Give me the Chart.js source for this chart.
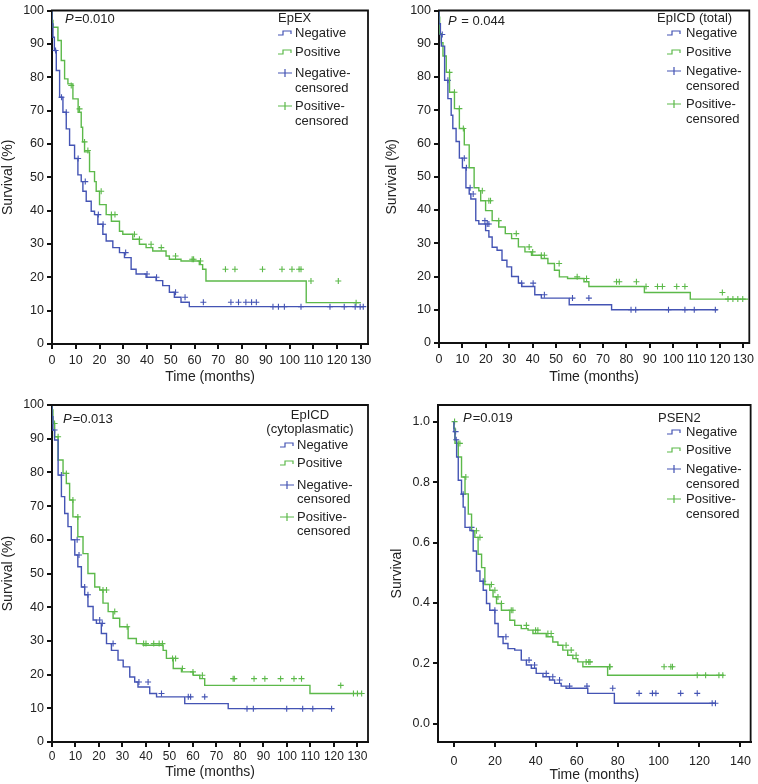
<!DOCTYPE html>
<html>
<head>
<meta charset="utf-8">
<script src="https://cdn.jsdelivr.net/npm/chart.js@4"></script>
<style>
  html, body { margin: 0; padding: 0; background: #fff; }
  #wrap { position: relative; width: 758px; height: 784px; }
  .cell { position: absolute; width: 379px; height: 392px; }
</style>
</head>
<body>
<div id="wrap">
  <div class="cell" style="left:0;top:0"><canvas id="c1" width="379" height="392"></canvas></div>
  <div class="cell" style="left:379px;top:0"><canvas id="c2" width="379" height="392"></canvas></div>
  <div class="cell" style="left:0;top:392px"><canvas id="c3" width="379" height="392"></canvas></div>
  <div class="cell" style="left:379px;top:392px"><canvas id="c4" width="379" height="392"></canvas></div>
</div>
<script>
// ---- EpEX ----
const negT1 = [0, 0.4, 1, 1.8, 3.2, 4.6, 6, 7.4, 9.5, 10.9, 12.3, 13, 14.4, 16.5, 17.9, 19.3, 21.4, 22.8, 25.6, 28.4, 30.5, 33.3, 35.4, 39.6, 43.8, 46.6, 49.4, 51.5, 54.3, 57.8, 87.5, 131];
const negS1 = [100, 96, 92, 88, 82, 74, 69.5, 64.5, 59.6, 55.6, 50.7, 48.7, 45.8, 42.8, 39.8, 38.8, 35.9, 32.9, 30.9, 28.9, 27.4, 25.9, 22.4, 21, 20, 19, 17.5, 15.5, 14, 12.5, 11.2, 11.2];
const posT1 = [0, 0.4, 2.5, 3.9, 5.3, 6.7, 8.8, 11, 12.3, 12.9, 13.7, 15.8, 17.9, 18.6, 20, 22.8, 25, 28.4, 29.8, 34, 36.8, 39.6, 42.4, 48, 49.4, 54.3, 62, 63.4, 64.8, 107, 122, 130];
const posS1 = [100, 97, 95, 91, 85, 79.5, 78, 73.5, 69.5, 65, 60.6, 57.6, 51.7, 48.7, 45.8, 41.8, 38.8, 36.8, 33.8, 32.9, 31.4, 29.9, 28.9, 27.9, 26.4, 25.4, 24.9, 23.8, 22.4, 18.9, 12.4, 12.4];
const negC1T = [1.5, 4, 6, 11, 14, 19.5, 21.5, 31, 40, 44, 52, 56, 63.7, 75.3, 78.5, 81.6, 84, 86, 93, 95.3, 97.8, 104.8, 117, 123, 127.6, 129.7, 131];
const negC1S = [88, 74, 69.5, 55.6, 48.7, 38.8, 35.9, 27.4, 21, 20, 15.5, 14, 12.5, 12.5, 12.5, 12.5, 12.5, 12.5, 11.2, 11.2, 11.2, 11.2, 11.2, 11.2, 11.2, 11.2, 11.2];
const posC1T = [8.1, 11.6, 13.7, 15.1, 20.7, 25, 26.5, 34.7, 36.8, 41.7, 46, 52, 59, 59.6, 62.5, 73, 77, 88.6, 96.8, 101, 104, 104.8, 109, 120.5, 128];
const posC1S = [77.5, 70.5, 60.6, 58, 45.8, 38.8, 38.8, 32.9, 31.4, 29.9, 28.9, 26.4, 25.4, 25.4, 24.9, 22.4, 22.4, 22.4, 22.4, 22.4, 22.4, 22.4, 18.9, 18.9, 12.4];

// ---- EpICD (total) ----
const negT2 = [0, 0.6, 1, 2.4, 3.8, 5.2, 5.9, 7.3, 8.7, 10, 11.5, 12.9, 13.6, 15.7, 17, 19.9, 21.3, 22.7, 24.8, 26.9, 29, 31, 33.9, 35.3, 40.9, 43.7, 55.6, 73.7, 78, 119];
const negS2 = [100, 96, 92.8, 89.3, 79, 73.5, 68.5, 64.5, 60.6, 55.6, 52.7, 46.7, 44.8, 43.3, 36.8, 35.8, 33.8, 31.9, 28.8, 27.9, 24.9, 22.9, 20, 18, 17, 14.5, 13.5, 11.5, 10, 10];
const posT2 = [0, 0.3, 1, 1.7, 3.1, 4.5, 6.6, 8.7, 10.8, 12.9, 15, 17, 17.8, 19.9, 22.7, 25.5, 28.3, 31, 33.9, 36.7, 39.5, 43.7, 46.5, 49.3, 51.4, 54.9, 61.9, 64, 87.7, 107.3, 122, 132];
const posS2 = [100, 98, 93, 90.3, 86.3, 81.4, 75.4, 70.5, 64.5, 59.6, 52.7, 46.7, 45.8, 42.8, 39.8, 36.8, 34.9, 32.9, 31.4, 28.9, 27.4, 26.4, 25.4, 23.9, 21.9, 19.9, 19.4, 18.4, 17, 15.2, 13.2, 13.2];
const negC2T = [1.4, 3.8, 10.8, 11.7, 13.3, 14.6, 19.6, 20.6, 21.3, 35.3, 40.2, 45, 57, 64, 82, 84, 98, 105, 109, 118];
const negC2S = [92.8, 79, 55.6, 52.7, 46.7, 44.8, 36.8, 35.8, 35.8, 18, 18, 14.5, 13.5, 13.5, 10, 10, 10, 10, 10, 10];
const posC2T = [4.5, 6.6, 8.7, 10.4, 18.5, 21.3, 22, 25.5, 33, 38.5, 40, 43.7, 45, 51.3, 59, 63, 75.8, 77, 84.3, 88.4, 93.3, 95.4, 101.5, 105, 121, 123.4, 125.5, 127.6, 129.7];
const posC2S = [81.4, 75.4, 70.5, 64.5, 45.8, 42.8, 42.8, 36.8, 32.9, 28.9, 27.4, 26.4, 26.4, 23.9, 19.9, 19.4, 18.4, 18.4, 18.4, 17, 17, 17, 17, 17, 15.2, 13.2, 13.2, 13.2, 13.2];

// ---- EpICD (cytoplasmatic) ----
const negT3 = [0, 0.4, 1.1, 2.6, 4, 5.4, 6.8, 8.2, 9.7, 11, 12.5, 13.9, 15.3, 17.5, 18.9, 21, 23.2, 25.3, 28.1, 30.3, 33.1, 35.2, 36.6, 41.6, 44.5, 56.5, 75, 79.3, 119];
const negS3 = [100, 96.5, 92.6, 89.6, 79.2, 72.8, 67.8, 63.9, 60, 55.5, 52, 46, 43.7, 40.2, 36.2, 35.2, 32.2, 29.2, 27.2, 24.3, 22.3, 19.3, 17.8, 16.3, 14.4, 13.4, 11.4, 9.9, 9.9];
const posT3 = [0, 0.4, 1.1, 2.6, 4.7, 6.1, 7.5, 8.9, 11, 13.2, 15.3, 18.2, 20.3, 21.7, 23.9, 26, 28.8, 32.4, 35.9, 38.8, 47.3, 48.7, 51.6, 55.1, 60.1, 62.9, 65, 109.8, 126, 131.8];
const posS3 = [100, 98.5, 94.5, 90.6, 83.7, 79.7, 76.7, 71.8, 66.8, 60.9, 55.9, 50, 46, 45.1, 41.2, 38.7, 36.7, 34.2, 30.7, 29.2, 28.7, 27.2, 24.8, 21.8, 20.8, 19.8, 18.8, 16.8, 14.4, 14.4];
const negC3T = [1.1, 4, 10.7, 11.5, 13.9, 15.3, 20.3, 21.4, 26, 37, 40.9, 46.6, 58, 59, 65, 83, 85.7, 99.9, 106.7, 111, 119];
const negC3S = [92.6, 79.2, 60, 55.5, 46, 43.7, 36.2, 35.2, 29.2, 17.8, 17.8, 14.4, 13.4, 13.4, 13.4, 9.9, 9.9, 9.9, 9.9, 9.9, 9.9];
const posC3T = [1.1, 2.6, 6.1, 8.9, 11, 21.7, 23.2, 26.7, 32, 39, 40, 43.3, 45.6, 47, 51.3, 52.6, 55.5, 60, 64, 77.1, 77.6, 86, 90.6, 97.3, 103, 106.2, 122.9, 128.3, 130, 131.8];
const posC3S = [94.5, 90.6, 79.7, 71.8, 66.8, 45.1, 45.1, 38.7, 34.2, 29.2, 29.2, 29.2, 29.2, 29.2, 24.8, 24.8, 21.8, 20.8, 19.8, 18.8, 18.8, 18.8, 18.8, 18.8, 18.8, 18.8, 16.8, 14.4, 14.4, 14.4];

// ---- PSEN2 ----
const negT4 = [0, 0.5, 1.3, 2.1, 3.7, 4.5, 5.4, 7.8, 9.4, 11, 12.7, 14.3, 15.9, 17.5, 20, 21.6, 24, 26.4, 29.7, 32.9, 35.4, 37.8, 40.2, 43.5, 46.7, 49.2, 52.4, 54.8, 65.4, 78.4, 124, 128];
const negS4 = [1, 0.967, 0.94, 0.883, 0.806, 0.76, 0.717, 0.65, 0.64, 0.572, 0.506, 0.472, 0.442, 0.398, 0.376, 0.332, 0.288, 0.266, 0.249, 0.244, 0.211, 0.195, 0.184, 0.167, 0.156, 0.145, 0.134, 0.125, 0.118, 0.101, 0.068, 0.068];
const posT4 = [0, 0.5, 2.1, 3.7, 5.4, 7, 8.6, 10.2, 11.8, 13.5, 15.1, 17.5, 19.1, 20.8, 23.2, 27.3, 29.7, 32.9, 36.2, 38.6, 45.1, 48.3, 50.8, 53.2, 55.6, 58.1, 60.5, 63, 75.1, 109.2, 132];
const posS4 = [1, 0.978, 0.928, 0.883, 0.817, 0.761, 0.694, 0.639, 0.617, 0.561, 0.517, 0.461, 0.442, 0.42, 0.398, 0.376, 0.343, 0.326, 0.315, 0.31, 0.299, 0.288, 0.271, 0.26, 0.244, 0.227, 0.216, 0.205, 0.189, 0.161, 0.161];
const negC4T = [0.8, 1.1, 4.5, 8.6, 14.3, 20, 25.4, 36.7, 39.4, 45.1, 48.3, 51.6, 56.5, 65, 77.6, 90.5, 97, 98.7, 110.8, 118.9, 126.2, 127.8];
const negC4S = [0.967, 0.94, 0.76, 0.65, 0.472, 0.376, 0.288, 0.211, 0.195, 0.167, 0.156, 0.145, 0.125, 0.125, 0.118, 0.101, 0.101, 0.101, 0.101, 0.101, 0.068, 0.068];
const posC4T = [0.3, 2.1, 2.9, 5.8, 11, 12.7, 18.3, 20, 21.5, 23.2, 28, 28.8, 35.4, 39.9, 41, 45.9, 47.5, 54.8, 57.3, 59.7, 64.6, 65.9, 66.5, 76, 76.3, 102.7, 106, 106.8, 118.9, 123, 129.5, 131.4];
const posC4S = [1, 0.928, 0.928, 0.817, 0.639, 0.617, 0.461, 0.442, 0.42, 0.398, 0.376, 0.376, 0.326, 0.31, 0.31, 0.299, 0.299, 0.26, 0.244, 0.227, 0.205, 0.205, 0.205, 0.189, 0.189, 0.189, 0.189, 0.189, 0.161, 0.161, 0.161, 0.161];

const seriesLabels = ["Negative", "Positive", "Negative-censored", "Positive-censored"];

const BLUE = "#4454b4";
const GREEN = "#5cb94a";
const FONT = "'Liberation Sans', Arial, Helvetica, sans-serif";

function pts(ts, ss) {
    return ts.map(function (t, i) { return { x: t, y: ss[i] }; });
}

// box on top/right, legend and P value drawn inside the plot
const kmDecor = {
    id: "kmDecor",
    afterDraw(chart, args, o) {
        const ctx = chart.ctx;
        const a = chart.chartArea;
        ctx.save();
        ctx.strokeStyle = "#111";
        ctx.lineWidth = 1.8;
        ctx.beginPath();
        ctx.moveTo(a.left - 1, a.top);
        ctx.lineTo(a.right, a.top);
        ctx.lineTo(a.right, a.bottom + 1);
        ctx.stroke();

        ctx.fillStyle = "#222";
        ctx.textBaseline = "middle";
        // P value
        ctx.font = "italic 13px " + FONT;
        ctx.textAlign = "left";
        ctx.fillText("P", o.px, o.py);
        const pw = ctx.measureText("P").width;
        ctx.font = "13px " + FONT;
        ctx.fillText(o.ptext, o.px + pw + 1, o.py);

        // legend title
        ctx.textAlign = o.titleAlign || "left";
        o.title.forEach(function (line, i) {
            ctx.fillText(line, o.titleX, o.titleY + i * 14);
        });

        // legend entries
        ctx.textAlign = "left";
        chart.data.datasets.forEach(function (ds, i) {
            const y = o.rows[i];
            const x = o.iconX;
            ctx.strokeStyle = ds.borderColor;
            ctx.lineWidth = 1.2;
            ctx.beginPath();
            if (i < 2) {
                ctx.moveTo(x, y + 2); ctx.lineTo(x + 5, y + 2); ctx.lineTo(x + 5, y - 2);
                ctx.lineTo(x + 13, y - 2); ctx.lineTo(x + 13, y + 1);
            } else {
                ctx.moveTo(x, y); ctx.lineTo(x + 14, y);
                ctx.moveTo(x + 7, y - 4); ctx.lineTo(x + 7, y + 4);
            }
            ctx.stroke();
            const parts = i < 2 ? [ds.label] : [ds.label.split("-")[0] + "-", ds.label.split("-")[1]];
            parts.forEach(function (p, k) {
                ctx.fillText(p, o.textX, y + k * o.gap);
            });
        });
        ctx.restore();
    }
};

function makePanel(id, p) {
    const datasets = [
        { label: seriesLabels[0], data: pts(p.negT, p.negS), showLine: true, stepped: "after", borderColor: BLUE, borderWidth: 1.4, pointRadius: 0 },
        { label: seriesLabels[1], data: pts(p.posT, p.posS), showLine: true, stepped: "after", borderColor: GREEN, borderWidth: 1.4, pointRadius: 0 },
        { label: seriesLabels[2], data: pts(p.negCT, p.negCS), showLine: false, pointStyle: "cross", pointRadius: 3, borderColor: BLUE, borderWidth: 1.1 },
        { label: seriesLabels[3], data: pts(p.posCT, p.posCS), showLine: false, pointStyle: "cross", pointRadius: 3, borderColor: GREEN, borderWidth: 1.1 }
    ];
    new Chart(document.getElementById(id), {
        type: "scatter",
        data: { datasets: datasets },
        plugins: [kmDecor],
        options: {
            responsive: false,
            animation: false,
            devicePixelRatio: 1,
            layout: { padding: { left: 0, right: p.padRight, top: p.padTop, bottom: 0 } },
            plugins: {
                legend: { display: false },
                tooltip: { enabled: false },
                kmDecor: p.decor
            },
            scales: {
                x: {
                    type: "linear",
                    min: p.xMin, max: p.xMax,
                    afterFit: function (s) { s.height = p.xH; },
                    border: { display: true, color: "#111", width: 2 },
                    grid: { drawOnChartArea: false, drawTicks: true, tickLength: 5, color: "#111", lineWidth: 2 },
                    ticks: { stepSize: p.xStep, includeBounds: false, autoSkip: false, maxRotation: 0, color: "#222",
                        font: { family: FONT, size: p.xTickSize || 12.5 }, padding: p.xTickPad },
                    title: { display: true, text: "Time (months)", color: "#222", font: { family: FONT, size: 14 }, padding: { top: 0, bottom: p.xTitlePad } }
                },
                y: {
                    min: p.yMin, max: p.yMax,
                    afterFit: function (s) { s.width = p.yW; },
                    border: { display: true, color: "#111", width: 2 },
                    grid: { drawOnChartArea: false, drawTicks: true, tickLength: 5, color: "#111", lineWidth: 2 },
                    ticks: { stepSize: p.yStep, includeBounds: false, color: "#222", font: { family: FONT, size: 12.5 }, padding: 3,
                        callback: p.yFmt },
                    title: { display: true, text: p.yTitle, color: "#222", font: { family: FONT, size: 14 }, padding: { top: p.yTitlePad, bottom: 0 } }
                }
            }
        }
    });
}

makePanel("c1", {
    negT: negT1, negS: negS1, posT: posT1, posS: posS1, negCT: negC1T, negCS: negC1S, posCT: posC1T, posCS: posC1S,
    xMin: 0, xMax: 133, xStep: 10, yMin: 0, yMax: 100, yStep: 10, yFmt: function (v) { return v; },
    padRight: 11, padTop: 7, yW: 52, xH: 48, xTickPad: 4, xTitlePad: 6, yTitlePad: 0, yTitle: "Survival (%)",
    decor: { px: 65, py: 19, ptext: "=0.010", title: ["EpEX"], titleX: 278, titleY: 18, iconX: 278, textX: 295, rows: [33, 52, 73, 106], gap: 15 }
});

makePanel("c2", {
    negT: negT2, negS: negS2, posT: posT2, posS: posS2, negCT: negC2T, negCS: negC2S, posCT: posC2T, posCS: posC2S,
    xMin: 0, xMax: 132.5, xStep: 10, yMin: 0, yMax: 100, yStep: 10, yFmt: function (v) { return v; },
    padRight: 7, padTop: 7, yW: 60, xH: 49, xTickPad: 4, xTitlePad: 6, yTitlePad: 5, yTitle: "Survival (%)",
    decor: { px: 69, py: 21, ptext: " = 0.044", title: ["EpICD (total)"], titleX: 278, titleY: 18, iconX: 288, textX: 307, rows: [33, 52, 71, 104], gap: 15 }
});

makePanel("c3", {
    negT: negT3, negS: negS3, posT: posT3, posS: posS3, negCT: negC3T, negCS: negC3S, posCT: posC3T, posCS: posC3S,
    xMin: 0, xMax: 134.5, xStep: 10, yMin: 0, yMax: 100, yStep: 10, yFmt: function (v) { return v; },
    padRight: 11, padTop: 13, yW: 52, xH: 42, xTickPad: 2, xTickSize: 12, xTitlePad: 3, yTitlePad: 0, yTitle: "Survival (%)",
    decor: { px: 63, py: 27, ptext: "=0.013", title: ["EpICD", "(cytoplasmatic)"], titleAlign: "center", titleX: 310, titleY: 23, iconX: 280, textX: 297, rows: [53, 71, 93, 125], gap: 14 }
});

makePanel("c4", {
    negT: negT4, negS: negS4, posT: posT4, posS: posS4, negCT: negC4T, negCS: negC4S, posCT: posC4T, posCS: posC4S,
    xMin: -7.8, xMax: 145, xStep: 20, yMin: -0.06, yMax: 1.055, yStep: 0.2, yFmt: function (v) { return v.toFixed(1); },
    padRight: 5, padTop: 13, yW: 59, xH: 42, xTickPad: 7, xTitlePad: 0, yTitlePad: 10, yTitle: "Survival",
    decor: { px: 84, py: 26, ptext: "=0.019", title: ["PSEN2"], titleX: 279, titleY: 26, iconX: 288, textX: 307, rows: [40, 58, 77, 107], gap: 15 }
});
</script>
</body>
</html>
